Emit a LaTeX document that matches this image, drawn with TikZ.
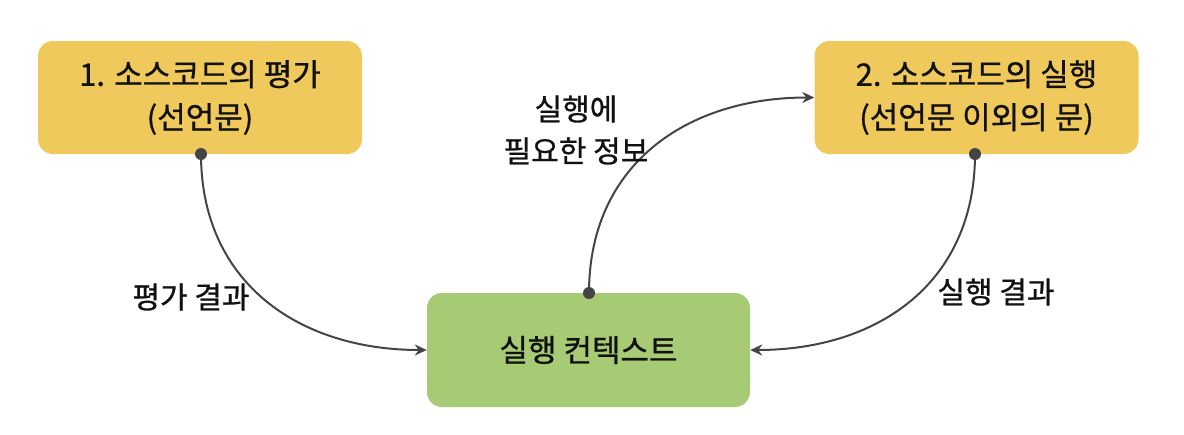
\documentclass[tikz,border=0pt]{standalone}
\usepackage{fontspec}
\setmainfont{Noto Sans CJK KR}[FakeBold=0.9]
\usetikzlibrary{arrows.meta}
\definecolor{boxyellow}{HTML}{F0C95C}
\definecolor{boxgreen}{HTML}{A6CB74}
\definecolor{linegray}{HTML}{444444}
\definecolor{textdark}{HTML}{111111}
\tikzset{
  yellowbox/.style={fill=boxyellow, rounded corners=15pt, minimum width=324pt, minimum height=113pt, inner sep=0pt, align=center, font=\fontsize{31}{43}\selectfont, text=textdark},
  greenbox/.style={fill=boxgreen, rounded corners=15pt, minimum width=323pt, minimum height=114pt, inner sep=0pt, align=center, font=\fontsize{31}{43}\selectfont, text=textdark},
  conn/.style={draw=linegray, line width=2pt, -{Stealth[length=12pt,width=11pt]}},
  dotmark/.style={circle, fill=linegray, inner sep=0pt, minimum size=12pt},
  lbl/.style={font=\fontsize{30}{42}\selectfont, text=textdark, align=center}
}
\begin{document}
\begin{tikzpicture}[x=1pt,y=-1pt]
\useasboundingbox (0,0) rectangle (1184,434);
\node[yellowbox] (b1) at (200,97.5) {1. 소스코드의 평가\\(선언문)};
\node[yellowbox] (b2) at (976.5,97.5) {2. 소스코드의 실행\\(선언문 이외의 문)};
\node[greenbox] (b3) at (588.5,350) {실행 컨텍스트};
\coordinate (p1) at (201,154);
\coordinate (p2) at (975,154);
\coordinate (p3) at (589,293);
\draw[conn] (p1) to[out=-90,in=180,looseness=1.1] (b3.west);
\draw[conn] (p3) to[out=90,in=180,looseness=1.1] (b2.west);
\draw[conn] (p2) to[out=-90,in=0,looseness=1.1] (b3.east);
\node[dotmark] (d1) at (p1) {};
\node[dotmark] (d2) at (p2) {};
\node[dotmark] (d3) at (p3) {};
\node[lbl] (l1) at (191,297) {평가 결과};
\node[lbl] (l2) at (576,130) {실행에\\필요한 정보};
\node[lbl] (l3) at (996,292) {실행 결과};
\end{tikzpicture}
\end{document}
